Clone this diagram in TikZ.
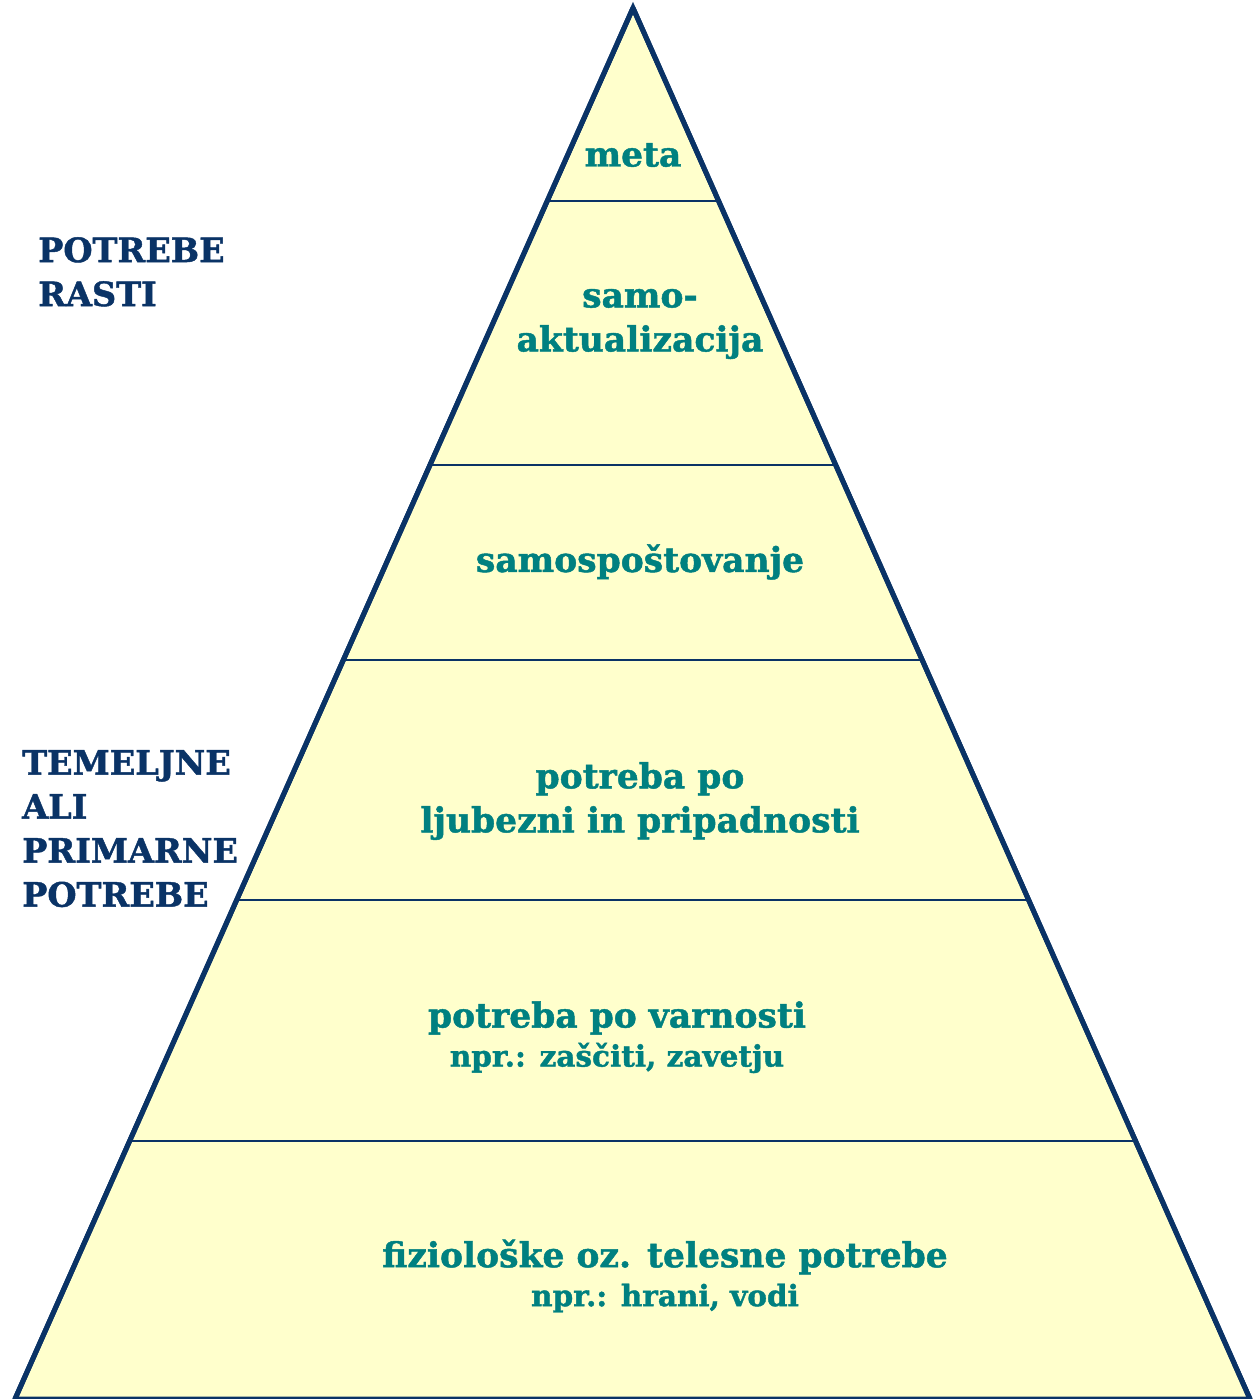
\documentclass[tikz,border=0pt]{standalone}
\usepackage{fontspec}
\setmainfont{DejaVu Serif}[BoldFeatures={FakeBold=1.3}]
\usetikzlibrary{calc}
\definecolor{navy}{HTML}{0A3366}
\definecolor{tealtxt}{HTML}{008080}
\definecolor{pale}{HTML}{FFFFCC}
\tikzset{
  tier/.style={text=tealtxt, font=\bfseries\fontsize{34.5}{44}\selectfont, align=center, inner sep=0pt},
  side/.style={text=navy, font=\bfseries\fontsize{33.5}{44}\selectfont, align=left, inner sep=0pt, anchor=north west},
  small/.style={font=\bfseries\fontsize{29.5}{34}\selectfont},
  divider/.style={draw=navy, line width=2pt},
  outline/.style={draw=navy, line width=5pt, line join=miter, fill=pale}
}
\begin{document}
\begin{tikzpicture}[x=1pt,y=-1pt]
\useasboundingbox (0,0) rectangle (1258,1399);
\coordinate (apex) at (633,8);
\coordinate (bl) at (15,1399);
\coordinate (br) at (1250,1399);
\draw[outline] (apex) -- (br) -- (bl) -- cycle;
\foreach \t/\n in {0.13875/a,0.32854/b,0.46873/c,0.64127/d,0.81452/e}{
  \coordinate (L\n) at ($(apex)!\t!(bl)$);
  \coordinate (R\n) at ($(apex)!\t!(br)$);
  \draw[divider] (L\n) -- (R\n);
}
\draw[outline, fill=none] (apex) -- (br) (apex) -- (bl);
\node[tier] (meta) at (633,155) {meta};
\node[tier] (samoakt) at (640,324) {samo-\\aktualizacija};
\node[tier] (samosp) at (640,562) {samospoštovanje};
\node[tier] (ljub) at (640,801) {potreba po\\ljubezni in pripadnosti};
\node[tier] (varn) at (617,1018) {potreba po varnosti};
\node[tier, small] (varnex) at (617,1058) {npr.: zaščiti, zavetju};
\node[tier] (fiz) at (665,1257) {fiziološke oz. telesne potrebe};
\node[tier, small] (fizex) at (665,1298) {npr.: hrani, vodi};
\node[side] (rasti) at (38,237) {POTREBE\\RASTI};
\node[side] (temelj) at (22,750) {TEMELJNE\\ALI\\PRIMARNE\\POTREBE};
\end{tikzpicture}
\end{document}
